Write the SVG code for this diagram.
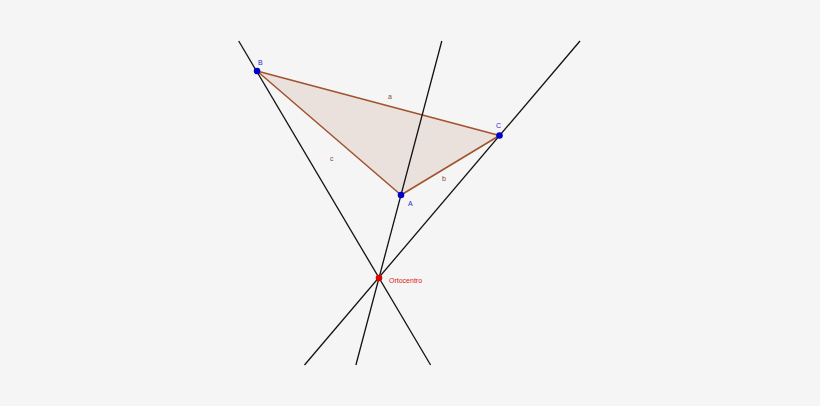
<svg xmlns="http://www.w3.org/2000/svg" width="820" height="406" viewBox="0 0 820 406">
<style>
.ln{stroke:#111;stroke-width:1.3;fill:none}
.pt{font-family:"Liberation Sans",Arial,sans-serif;font-size:7px;fill:#2a2ad0}
.sd{font-family:"Liberation Sans",Arial,sans-serif;font-size:7px;fill:#8b4a2a}
</style>
<rect width="820" height="406" fill="#f5f5f5"/>
<g id="triangle">
<polygon points="257,71 499.5,135.5 401,195" fill="#a0522d" fill-opacity="0.12" stroke="#a0522d" stroke-width="1.5" stroke-linejoin="round"/>
</g>
<g id="connectors">
<line class="ln" x1="238.7" y1="41" x2="430.6" y2="365"/>
<line class="ln" x1="441.8" y1="41" x2="355.9" y2="365"/>
<line class="ln" x1="580" y1="41" x2="304.5" y2="365"/>
</g>
<g id="side-labels">
<text class="sd" x="388" y="99">a</text>
<text class="sd" x="330" y="161">c</text>
<text class="sd" x="442" y="181">b</text>
</g>
<g id="B"><circle cx="257" cy="71" r="3.3" fill="#0000cc"/><text class="pt" x="258" y="65">B</text></g>
<g id="C"><circle cx="499.5" cy="135.5" r="3.3" fill="#0000cc"/><text class="pt" x="496" y="128">C</text></g>
<g id="A"><circle cx="401" cy="195" r="3.3" fill="#0000cc"/><text class="pt" x="408" y="206">A</text></g>
<g id="H"><circle cx="379" cy="278" r="3.3" fill="#dd0000"/><text x="389" y="283" font-family="Liberation Sans,Arial,sans-serif" font-size="7px" fill="#dd2020">Ortocentro</text></g>
</svg>
